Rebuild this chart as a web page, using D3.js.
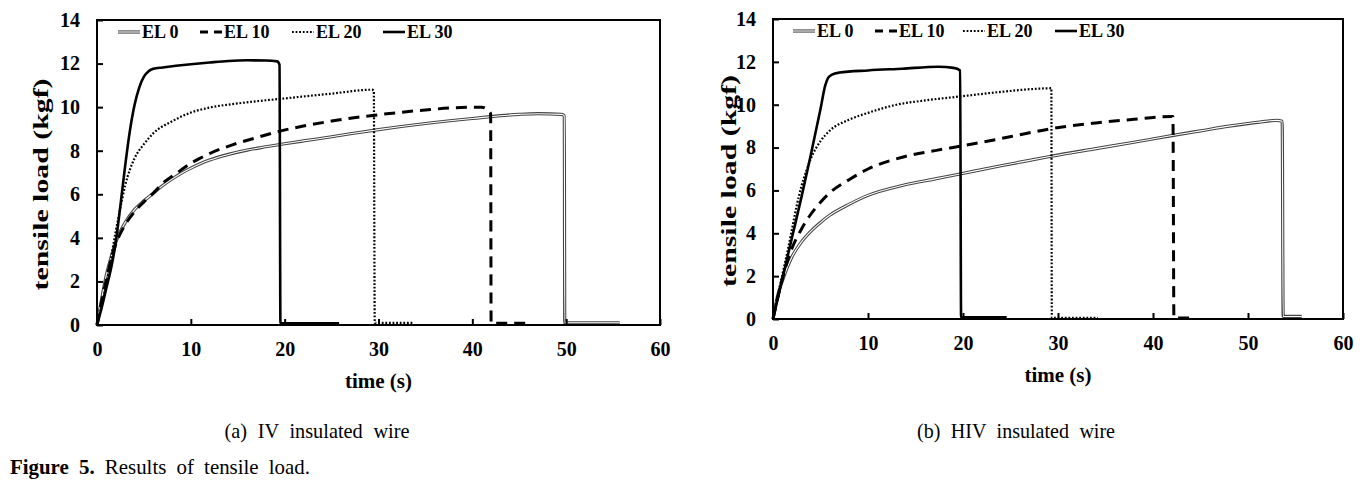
<!DOCTYPE html>
<html>
<head>
<meta charset="utf-8">
<script src="https://cdn.jsdelivr.net/npm/d3@7"></script>
<style>
  body { margin: 0; background: #fff; }
  svg { display: block; }
  text { font-family: "Liberation Serif", "Times New Roman", serif; fill: #000; }
</style>
</head>
<body>
<div id="chart"></div>
<script>
// legend / series names
const seriesNames = ['EL 0', 'EL 10', 'EL 20', 'EL 30'];
const xTicks = [0, 10, 20, 30, 40, 50, 60];
const yTicks = [0, 2, 4, 6, 8, 10, 12, 14];

// (a) IV insulated wire : [time (s), tensile load (kgf)]
const ivEL0 = [[0,0],[0.5,1.2],[1,2.3],[1.5,3.1],[2,3.8],[3,4.7],[4,5.3],[5,5.7],[6,6.05],[7,6.4],[8,6.7],[9,6.97],[10,7.2],[11,7.4],[12,7.57],[14,7.83],[16,8.03],[18,8.18],[20,8.32],[22,8.45],[25,8.64],[27,8.78],[30,8.97],[35,9.25],[40,9.48],[45,9.67],[47,9.7],[49.5,9.67],[49.8,9.6],[49.85,0.1],[55.7,0.1]];
const ivEL10 = [[0,0],[0.5,1.1],[1,2.1],[1.5,3.0],[2,3.7],[3,4.6],[4,5.2],[5,5.65],[6,6.05],[7,6.5],[8.4,6.94],[10,7.42],[11,7.66],[12,7.87],[14.5,8.28],[17,8.6],[19.5,8.9],[22,9.13],[25,9.36],[27,9.49],[30,9.65],[35,9.87],[38,9.97],[41,10.0],[41.8,9.8],[41.95,9.7],[42,0.08],[45.7,0.08]];
const ivEL20 = [[0,0],[0.5,0.9],[1,1.9],[1.5,3.1],[2,4.3],[2.5,5.4],[3,6.4],[4,7.65],[5,8.3],[6,8.8],[8,9.35],[10,9.75],[12,9.98],[15,10.17],[20,10.4],[25,10.62],[29.3,10.8],[29.5,10.75],[29.6,0.1],[33.8,0.1]];
const ivEL30 = [[0,0],[0.5,0.8],[1,1.7],[1.5,2.6],[2,3.8],[2.5,5.5],[3,7.3],[3.5,8.9],[4,10.1],[4.5,10.9],[5,11.4],[5.5,11.65],[6,11.76],[7,11.82],[10,11.97],[12,12.05],[14,12.12],[16,12.15],[18,12.14],[19.2,12.1],[19.45,11.95],[19.55,0.08],[25.8,0.08]];

// (b) HIV insulated wire : [time (s), tensile load (kgf)]
const hivEL0 = [[0,0],[0.5,1.1],[1,1.8],[2,2.9],[3,3.6],[4,4.1],[5,4.5],[6,4.85],[8,5.35],[10,5.77],[13.7,6.24],[17.2,6.55],[19.8,6.78],[24,7.15],[26,7.32],[29,7.57],[34,7.95],[38,8.25],[42,8.56],[45,8.78],[48,9.0],[51,9.18],[53,9.27],[53.6,9.23],[53.7,0.12],[55.65,0.12]];
const hivEL10 = [[0,0],[0.5,1.0],[1,1.9],[2,3.3],[3,4.2],[4,4.9],[5,5.45],[6,5.9],[8,6.5],[10,7.0],[13.7,7.56],[17.2,7.87],[19.8,8.07],[24,8.42],[26,8.6],[29,8.86],[34,9.15],[38,9.32],[41,9.44],[42.1,9.45],[42.2,0.05],[44.4,0.05]];
const hivEL20 = [[0,0],[0.5,1.1],[1,2.1],[1.5,3.1],[2,4.2],[2.5,5.3],[3,6.2],[3.5,6.9],[4,7.5],[5,8.3],[6,8.8],[8,9.3],[10,9.62],[13,10.0],[16,10.2],[20,10.4],[24,10.6],[28,10.75],[29.3,10.77],[29.35,0.05],[34.2,0.05]];
const hivEL30 = [[0,0],[1,1.9],[2,3.8],[3,5.7],[4,7.7],[5,9.8],[5.5,10.9],[5.8,11.25],[6.2,11.4],[7,11.5],[10,11.6],[13.6,11.68],[17.4,11.77],[19,11.72],[19.7,11.6],[19.8,0.08],[24.6,0.08]];

const panels = [
  { series: [ivEL0, ivEL10, ivEL20, ivEL30], caption: '(a) IV insulated wire',
    left: 97, right: 660, top: 20, bottom: 325, titleX: 41, captionX: 317, captionW: 185,
    legendX: 118, legendGap: [0, 82, 174, 265] },
  { series: [hivEL0, hivEL10, hivEL20, hivEL30], caption: '(b) HIV insulated wire',
    left: 773, right: 1343, top: 19, bottom: 319, titleX: 729, captionX: 1016, captionW: 198,
    legendX: 793, legendGap: [0, 82, 170, 262] }
];

// line styles: 0 double, 1 dashed, 2 dotted, 3 solid
const styles = [
  { stroke: '#444', width: 3.2, dash: null, inner: true },
  { stroke: '#000', width: 3, dash: '11,7' },
  { stroke: '#000', width: 2.2, dash: '1.8,1.8' },
  { stroke: '#000', width: 2.6, dash: null }
];

const svg = d3.select('#chart').append('svg')
  .attr('width', 1372)
  .attr('height', 492);

svg.append('rect').attr('width', 1372).attr('height', 492).attr('fill', '#fff');

function drawStyled(g, d, s) {
  g.append('path')
    .attr('d', d)
    .attr('fill', 'none')
    .attr('stroke', s.stroke)
    .attr('stroke-width', s.width)
    .attr('stroke-dasharray', s.dash)
    .attr('stroke-linejoin', 'round');
  if (s.inner) {
    g.append('path')
      .attr('d', d)
      .attr('fill', 'none')
      .attr('stroke', '#fff')
      .attr('stroke-width', 1.1)
      .attr('stroke-linejoin', 'round');
  }
}

panels.forEach(p => {
  const x = d3.scaleLinear().domain([0, 60]).range([p.left, p.right]);
  const y = d3.scaleLinear().domain([0, 14]).range([p.bottom, p.top]);
  const g = svg.append('g');

  // curves
  const line = d3.line().x(d => x(d[0])).y(d => y(d[1])).curve(d3.curveMonotoneX);
  p.series.forEach((data, i) => drawStyled(g, line(data), styles[i]));

  // axes with inner ticks
  g.append('g')
    .attr('transform', `translate(0,${p.bottom})`)
    .call(d3.axisBottom(x).tickValues(xTicks).tickSize(-6).tickPadding(17))
    .call(a => a.select('.domain').remove())
    .call(a => a.selectAll('line').attr('stroke-width', 2))
    .call(a => a.selectAll('text').style('font-size', '20px').style('font-weight', 'bold')
      .style('font-family', '"Liberation Serif", serif'));
  g.append('g')
    .attr('transform', `translate(${p.left},0)`)
    .call(d3.axisLeft(y).tickValues(yTicks).tickSize(-6).tickPadding(17))
    .call(a => a.select('.domain').remove())
    .call(a => a.selectAll('line').attr('stroke-width', 2))
    .call(a => a.selectAll('text').style('font-size', '20px').style('font-weight', 'bold')
      .style('font-family', '"Liberation Serif", serif'));

  // plot frame
  g.append('rect')
    .attr('x', p.left).attr('y', p.top)
    .attr('width', p.right - p.left).attr('height', p.bottom - p.top)
    .attr('fill', 'none').attr('stroke', '#000').attr('stroke-width', 2);

  // axis titles
  g.append('text')
    .attr('transform', `translate(${p.titleX},${(p.top + p.bottom) / 2 + 12}) rotate(-90)`)
    .attr('text-anchor', 'middle').attr('dy', '0.35em')
    .attr('textLength', 212).attr('lengthAdjust', 'spacingAndGlyphs')
    .style('font-size', '21px').style('font-weight', 'bold')
    .text('tensile load (kgf)');
  g.append('text')
    .attr('x', (p.left + p.right) / 2).attr('y', p.bottom + 63)
    .attr('text-anchor', 'middle')
    .style('font-size', '21px').style('font-weight', 'bold')
    .text('time (s)');

  // legend
  const leg = g.append('g');
  seriesNames.forEach((name, i) => {
    const lx = p.legendX + p.legendGap[i];
    const ly = p.top + 12;
    drawStyled(leg, `M${lx},${ly}L${lx + 22},${ly}`,
      i === 1 ? Object.assign({}, styles[1], { dash: '8,6' }) : styles[i]);
    leg.append('text')
      .attr('x', lx + 24).attr('y', ly + 6)
      .style('font-size', '18px').style('font-weight', 'bold')
      .text(name);
  });

  // caption
  svg.append('text')
    .attr('x', p.captionX - p.captionW / 2).attr('y', 438)
    .attr('textLength', p.captionW).attr('lengthAdjust', 'spacingAndGlyphs')
    .style('font-size', '22px').style('word-spacing', '6px')
    .text(p.caption);
});

const fig = svg.append('text').attr('x', 10).attr('y', 474)
  .attr('textLength', 300).attr('lengthAdjust', 'spacingAndGlyphs')
  .style('font-size', '21px').style('word-spacing', '5px');
fig.append('tspan').style('font-weight', 'bold').text('Figure 5.');
fig.append('tspan').text(' Results of tensile load.');
</script>
</body>
</html>
